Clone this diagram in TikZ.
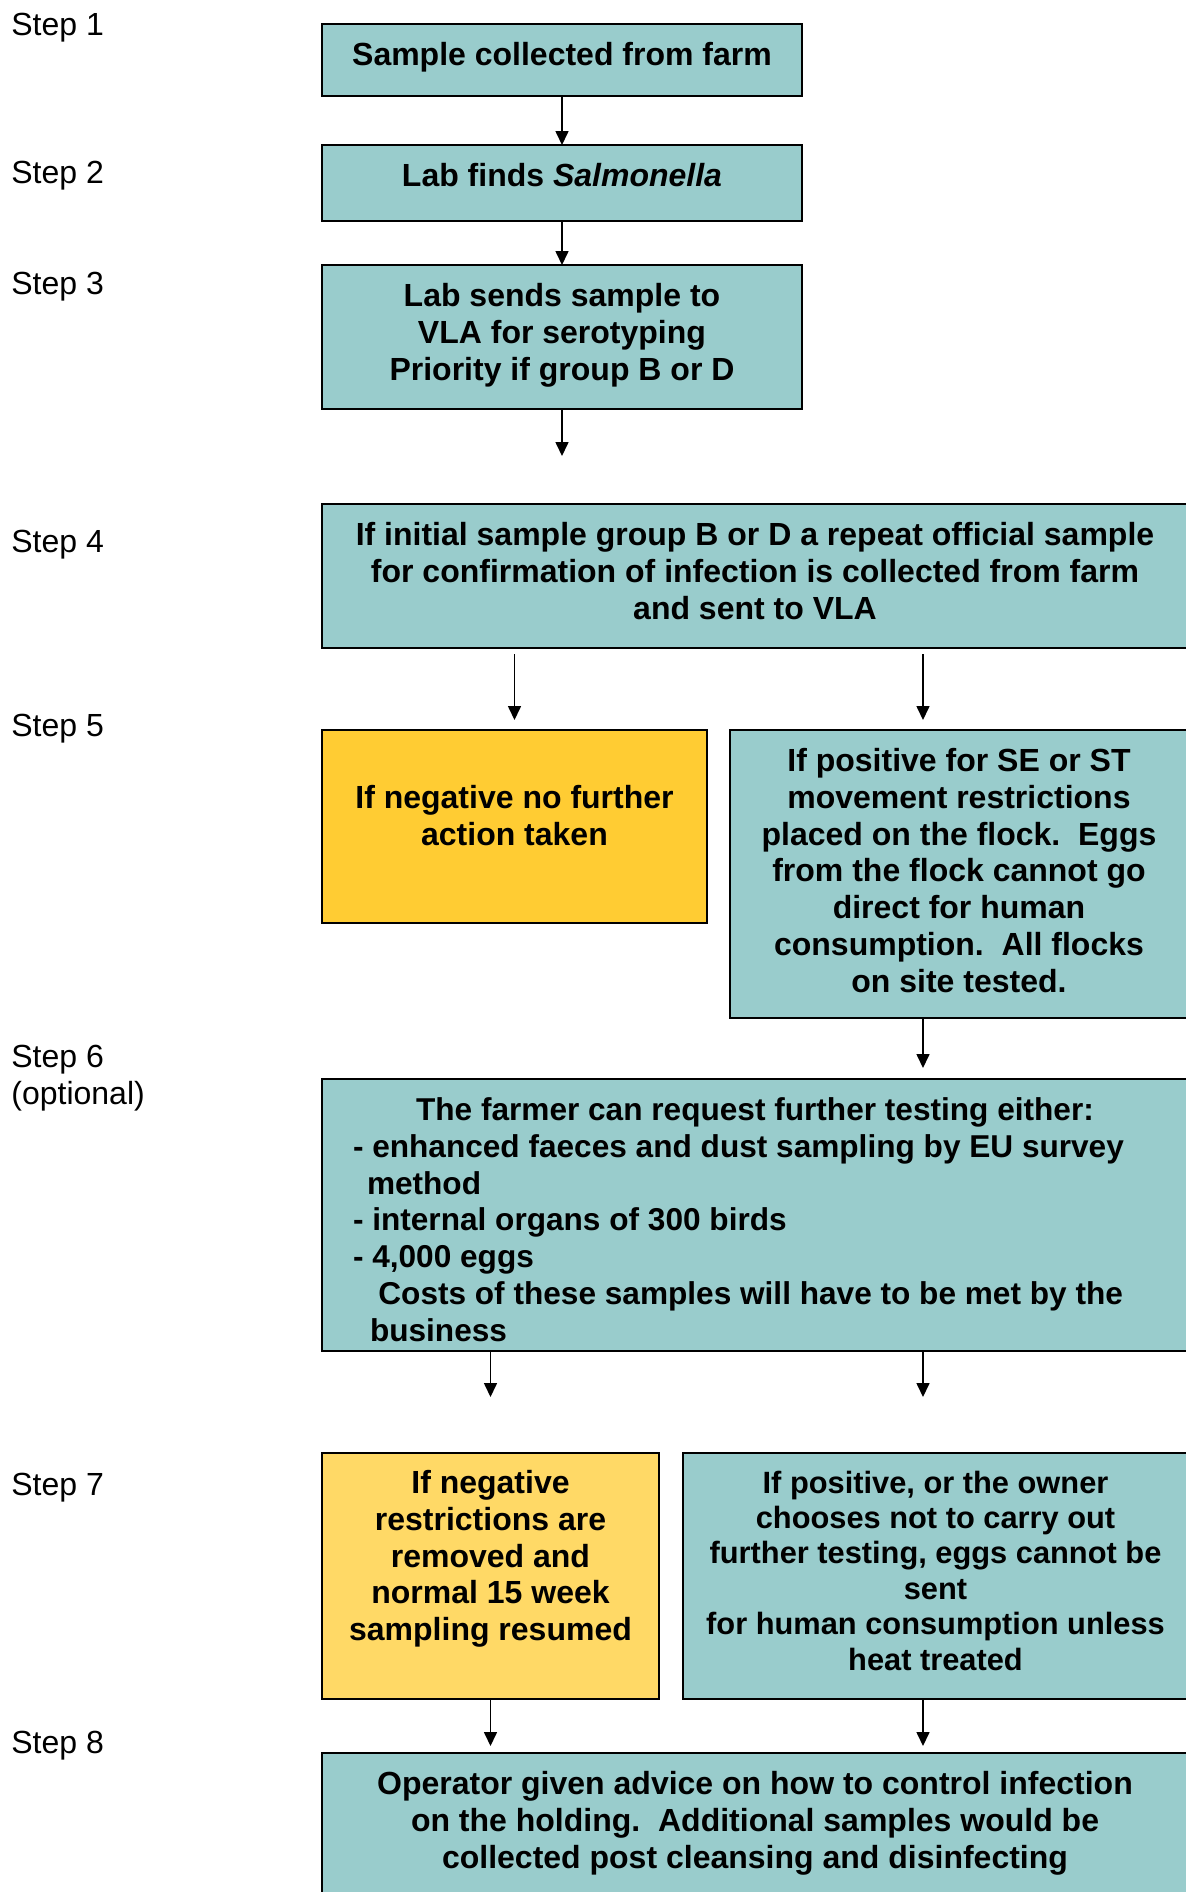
\documentclass[tikz,border=0pt]{standalone}
\usepackage{fontspec}
\setmainfont{Liberation Sans}
\usepackage{xcolor}
\definecolor{boxteal}{HTML}{99CCCC}
\definecolor{gold}{HTML}{FFCC33}
\definecolor{paleyellow}{HTML}{FFD966}
\usepackage{tikz}
\usetikzlibrary{arrows.meta,positioning}

\begin{document}
\begin{tikzpicture}[
  font=\fontsize{16pt}{18.4pt}\selectfont,
  >={Triangle[length=7pt,width=6.5pt]},
  arr/.style={->, line width=0.8pt},
  box/.style={draw, line width=1pt, outer sep=0pt, fill=boxteal, align=center, inner sep=3pt, font=\fontsize{16pt}{18.4pt}\selectfont\bfseries},
  stepnote/.style={anchor=base west, inner sep=0pt, align=left},
]
\useasboundingbox (0,0) rectangle (592.5pt,-946pt);

% Step labels
\node[stepnote] (s1) at (5.5pt,-17.5pt) {Step 1};
\node[stepnote] (s2) at (5.5pt,-91.75pt) {Step 2};
\node[stepnote] (s3) at (5.5pt,-147pt) {Step 3};
\node[stepnote] (s4) at (5.5pt,-276pt) {Step 4};
\node[stepnote] (s5) at (5.5pt,-368pt) {Step 5};
\node[stepnote] (s6) at (5.5pt,-552pt) {Step 6\\(optional)};
\node[stepnote] (s7) at (5.5pt,-747.5pt) {Step 7};
\node[stepnote] (s8) at (5.5pt,-876.5pt) {Step 8};

% Main column (text kept near the top of each box)
\node[box, minimum width=240pt, minimum height=36pt, text height=17.7pt, text depth=12.3pt, anchor=north west] (sample) at (161pt,-12pt) {Sample collected from farm};
\node[box, minimum width=240pt, minimum height=38pt, text height=17.7pt, text depth=14.3pt, below=24.5pt of sample] (finds) {Lab finds \textit{Salmonella}};
\node[box, minimum width=240pt, minimum height=72pt, text height=54.5pt, text depth=11.5pt, below=22pt of finds] (serotype) {Lab sends sample to\\VLA for serotyping\\Priority if group B or D};
\node[box, minimum width=433pt, minimum height=72pt, text height=54.5pt, text depth=11.5pt, below=47.5pt of serotype.south west, anchor=north west] (repeat) {If initial sample group B or D a repeat official sample\\for confirmation of infection is collected from farm\\and sent to VLA};

% Step 5 outcomes
\node[box, fill=gold, minimum width=192.5pt, minimum height=96.5pt, text height=54.5pt, text depth=36pt, below=41pt of repeat.south west, anchor=north west] (negA) {If negative no further\\action taken};
\node[box, minimum width=229pt, minimum height=144pt, text height=128.1pt, text depth=9.9pt, right=11.5pt of negA.north east, anchor=north west] (posA) {If positive for SE or ST\\movement restrictions\\placed on the flock.~~Eggs\\from the flock cannot go\\direct for human\\consumption.~~All flocks\\on site tested.};

% Optional testing
\node[box, minimum width=433pt, minimum height=136pt, text height=128.1pt, text depth=1.9pt, align=left, inner xsep=15.5pt, font=\fontsize{15.8pt}{18.4pt}\selectfont\bfseries, below=78pt of negA.south west, anchor=north west] (testing) {\makebox[402pt]{The farmer can request further testing either:}\\
- enhanced faeces and dust sampling by EU survey\\
\hspace*{7pt}method\\
- internal organs of 300 birds\\
- 4,000 eggs\\
\hspace*{12.7pt}Costs of these samples will have to be met by the\\
\hspace*{8.5pt}business};

% Step 7 outcomes
\node[box, fill=paleyellow, minimum width=168.5pt, minimum height=123pt, text height=90.8pt, text depth=26.2pt, below=51pt of testing.south west, anchor=north west] (negB) {If negative\\restrictions are\\removed and\\normal 15 week\\sampling resumed};
\node[box, minimum width=252.5pt, minimum height=123pt, text height=105.5pt, text depth=11.5pt, font=\fontsize{15.4pt}{17.7pt}\selectfont\bfseries, right=12pt of negB.north east, anchor=north west] (posB) {If positive, or the owner\\chooses not to carry out\\further testing, eggs cannot be\\sent\\for human consumption unless\\heat treated};

\node[box, minimum width=433pt, minimum height=76pt, text height=54.5pt, text depth=15.5pt, below=27pt of negB.south west, anchor=north west] (advice) {Operator given advice on how to control infection\\on the holding.~~Additional samples would be\\collected post cleansing and disinfecting};

% Connectors
\coordinate (col) at (461.5pt,0);
\coordinate[below=23.5pt of serotype.south] (open);
\draw[arr] (sample) -- (finds);
\draw[arr] (finds) -- (serotype);
\draw[arr] (serotype) -- (open);
\draw[arr] ([yshift=-3pt]repeat.south -| negA.north) -- ([yshift=5pt]negA.north);
\draw[arr] ([yshift=-3pt]repeat.south -| col) -- ([yshift=5pt]posA.north -| col);
\draw[arr] (posA.south -| col) -- ([yshift=5.5pt]testing.north -| col);
\draw[arr] (testing.south -| negB.north) -- ([yshift=28pt]negB.north);
\draw[arr] (testing.south -| col) -- ([yshift=28pt]posB.north -| col);
\draw[arr] (negB) -- ([yshift=3.5pt]advice.north -| negB.south);
\draw[arr] (posB.south -| col) -- ([yshift=3.5pt]advice.north -| col);
\end{tikzpicture}
\end{document}
